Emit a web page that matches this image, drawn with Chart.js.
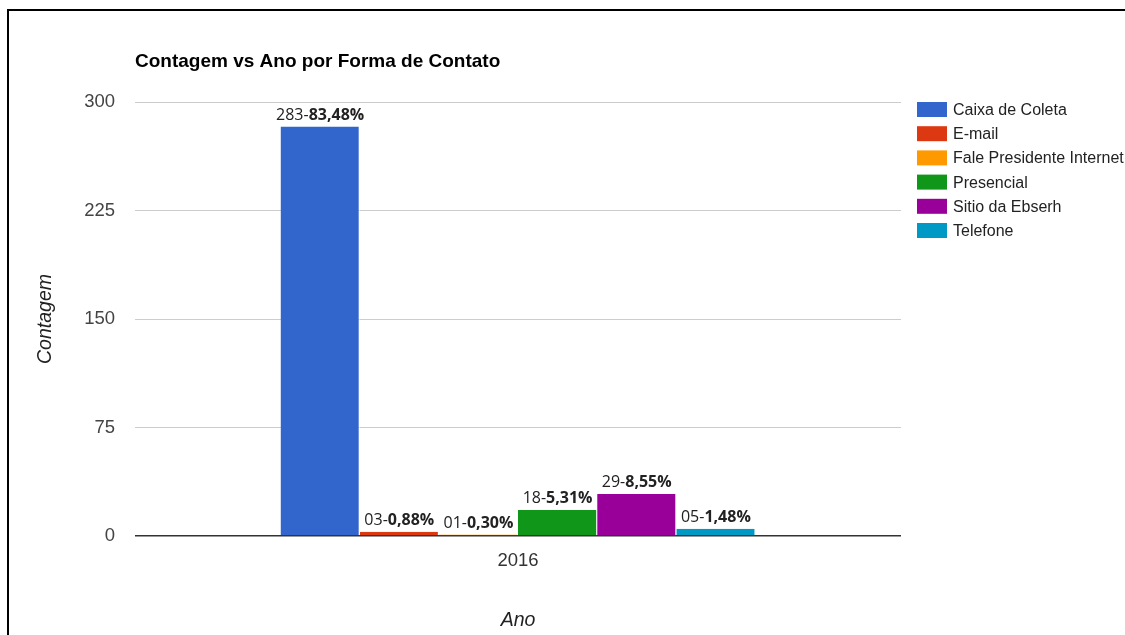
<!DOCTYPE html>
<html>
<head>
<meta charset="utf-8">
<script src="https://cdn.jsdelivr.net/npm/chart.js@4"></script>
<style>
  html, body { margin: 0; padding: 0; background: #fff; }
  #wrap { position: relative; width: 1125px; height: 635px; overflow: hidden; }
  #frame { position: absolute; left: 7px; top: 9px; width: 1200px; height: 700px; border-top: 2px solid #000; border-left: 2px solid #000; }
  #chart { position: absolute; left: 0; top: 0; }
</style>
</head>
<body>
<div id="wrap">
  <div id="frame"></div>
  <canvas id="chart" width="1125" height="635"></canvas>
</div>
<script>
const years = ['2016'];
const seriesNames = ['Caixa de Coleta', 'E-mail', 'Fale Presidente Internet', 'Presencial', 'Sitio da Ebserh', 'Telefone'];
const counts = [283, 3, 1, 18, 29, 5];
const countLabels = ['283', '03', '01', '18', '29', '05'];
const percents = ['83,48%', '0,88%', '0,30%', '5,31%', '8,55%', '1,48%'];
const yTicks = [0, 75, 150, 225, 300];

const colors = ['#3366cc', '#dc3912', '#ff9900', '#109618', '#990099', '#0099c6'];

const decor = {
  id: 'decor',
  afterDraw(chart) {
    const c = chart.ctx;
    const a = chart.chartArea;
    c.save();
    // title
    c.fillStyle = '#000';
    c.font = 'bold 19px "Liberation Sans", Arial, sans-serif';
    c.textAlign = 'left';
    c.textBaseline = 'middle';
    c.fillText('Contagem vs Ano por Forma de Contato', 135, 62);

    // axis titles
    c.fillStyle = '#222';
    c.font = 'italic 19.5px "Liberation Sans", Arial, sans-serif';
    c.textAlign = 'center';
    c.fillText('Ano', (a.left + a.right) / 2, 621);
    c.save();
    c.translate(46, (a.top + a.bottom) / 2);
    c.rotate(-Math.PI / 2);
    c.fillText('Contagem', 0, 0);
    c.restore();

    // legend
    c.font = '16px "Liberation Sans", Arial, sans-serif';
    c.textAlign = 'left';
    chart.data.datasets.forEach((ds, i) => {
      const y = 109.5 + i * 24.2;
      c.fillStyle = ds.backgroundColor;
      c.fillRect(a.right + 16, y - 7.5, 30, 15);
      c.fillStyle = '#222';
      c.fillText(ds.label, a.right + 52, y + 1);
    });

    // bar labels
    c.textBaseline = 'alphabetic';
    chart.data.datasets.forEach((ds, i) => {
      const bar = chart.getDatasetMeta(i).data[0];
      const first = countLabels[i] + '-';
      const second = percents[i];
      c.font = '16px "Open Sans", sans-serif';
      const w1 = c.measureText(first).width;
      c.font = 'bold 16px "Open Sans", sans-serif';
      const w2 = c.measureText(second).width;
      let x = bar.x - (w1 + w2) / 2;
      const y = bar.y - 7;
      c.fillStyle = '#222';
      c.font = '16px "Open Sans", sans-serif';
      c.fillText(first, x, y);
      c.font = 'bold 16px "Open Sans", sans-serif';
      c.fillText(second, x + w1, y);
    });
    c.restore();
  }
};

new Chart(document.getElementById('chart'), {
  type: 'bar',
  data: {
    labels: years,
    datasets: seriesNames.map((name, i) => ({
      label: name,
      data: [counts[i]],
      backgroundColor: colors[i],
      borderColor: '#fff',
      borderWidth: { left: 0, right: 1, top: 0, bottom: 0 },
      borderSkipped: 'bottom'
    }))
  },
  options: {
    responsive: false,
    animation: false,
    layout: { padding: { top: 102, right: 224, left: 0, bottom: 0 } },
    plugins: { legend: { display: false }, title: { display: false }, tooltip: { enabled: false } },
    datasets: { bar: { categoryPercentage: 0.62, barPercentage: 1 } },
    scales: {
      x: {
        grid: { display: false },
        border: { display: false },
        ticks: { color: '#333', font: { size: 18.5, family: '"Liberation Sans", Arial, sans-serif' }, padding: 6 },
        afterFit: s => { s.height = 99; }
      },
      y: {
        min: 0,
        max: 300,
        afterBuildTicks: s => { s.ticks = yTicks.map(v => ({ value: v })); },
        grid: {
          drawTicks: false,
          color: ctx => ctx.tick && ctx.tick.value === 0 ? '#333' : '#cccccc',
          lineWidth: ctx => ctx.tick && ctx.tick.value === 0 ? 1.5 : 1
        },
        border: { display: false },
        ticks: { color: '#444', font: { size: 18.5, family: '"Liberation Sans", Arial, sans-serif' }, padding: 20 },
        afterFit: s => { s.width = 135; }
      }
    }
  },
  plugins: [decor]
});
</script>
</body>
</html>
